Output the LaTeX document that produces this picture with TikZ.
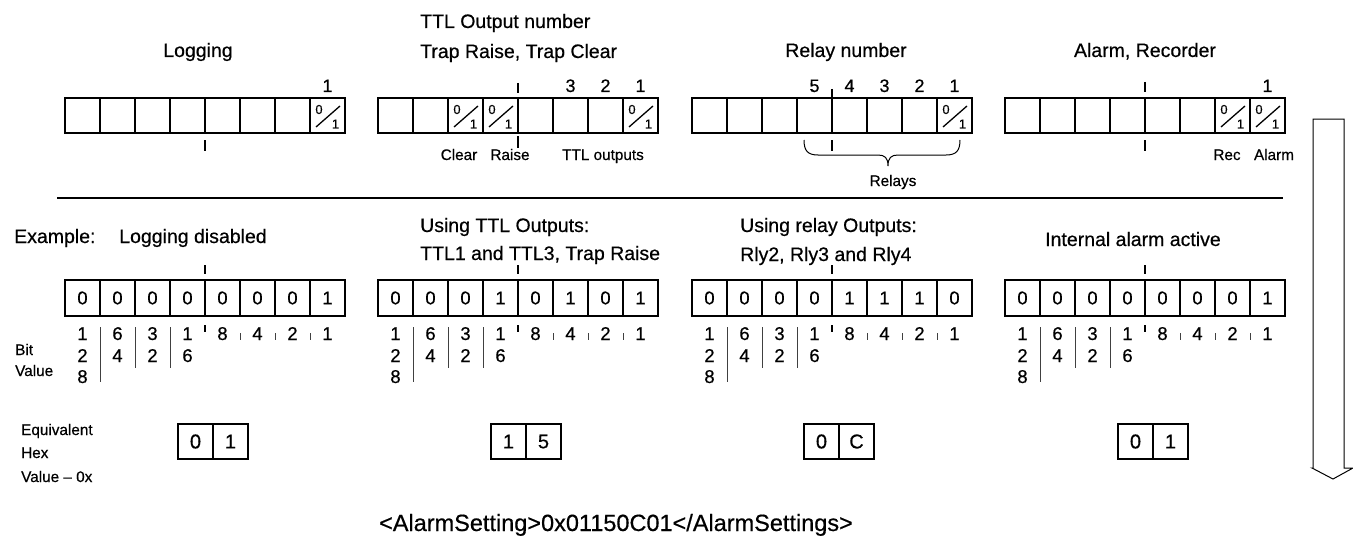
\documentclass[tikz,border=0pt]{standalone}
\usepackage{fontspec}
\setmainfont[FakeBold=0.5]{Liberation Sans}
\newcommand\fhead{\fontsize{19.5}{23}\selectfont}
\newcommand\fdig{\fontsize{18.5}{22}\selectfont}
\newcommand\fhex{\fontsize{20}{24}\selectfont}
\newcommand\fsmall{\fontsize{15.3}{18}\selectfont}
\newcommand\fnum{\fontsize{18}{21}\selectfont}
\newcommand\ffrac{\fontsize{13}{15}\selectfont}
\newcommand\fbig{\fontsize{23.5}{28}\selectfont}
\tikzset{
  cell/.style={draw, line width=1.5pt, minimum width=35pt, minimum height=35pt, inner sep=0pt, font=\fdig},
  bcell/.style={cell, minimum height=36pt},
  hcell/.style={cell, font=\fhex},
  tickline/.style={line width=1.6pt},
  sepline/.style={line width=0.8pt, black!75},
  lbl/.style={inner sep=0pt, anchor=base},
  lblw/.style={inner sep=0pt, anchor=base west},
  fracline/.style={line width=1.3pt},
}
% empty top register: #1 left x, #2 name
\newcommand\topreg[2]{%
  \foreach \k in {0,...,7} {\node[cell] (#2\k) at ({#1+17.5+35*\k},115.5) {};}}
% fraction mark in a top cell: #1 left x of cell
\newcommand\fracmark[1]{%
  \draw[fracline] ({#1+6},127) -- ({#1+30},106);
  \node[font=\ffrac, inner sep=0pt] at ({#1+9},109.5) {0};
  \node[font=\ffrac, inner sep=0pt] at ({#1+25.5},124) {1};}
% bottom register: #1 left x, #2 name, #3 digits
\newcommand\botreg[3]{%
  \foreach \d [count=\k from 0] in {#3} {\node[bcell] (#2\k) at ({#1+17.5+35*\k},298) {\d};}
  \draw[tickline] ({#1+140},265) -- ({#1+140},274);
  % bit values
  \foreach \col/\a/\b/\c in {0/1/2/8, 1/6/4/, 2/3/2/, 3/1/6/, 4/8//, 5/4//, 6/2//, 7/1//} {
    \node[lbl, font=\fdig] at ({#1+17.5+35*\col},340) {\a};
    \node[lbl, font=\fdig] at ({#1+17.5+35*\col},362) {\b};
    \node[lbl, font=\fdig] at ({#1+17.5+35*\col},383) {\c};
  }
  \draw[sepline] ({#1+35},327) -- ({#1+35},382);
  \draw[sepline] ({#1+70},327) -- ({#1+70},368);
  \draw[sepline] ({#1+105},327) -- ({#1+105},368);
  \draw[tickline] ({#1+140},325) -- ({#1+140},332);
  \foreach \x in {175,210,245} {\draw[sepline] ({#1+\x},333) -- ({#1+\x},340);}
}
% hex box: #1 left x, #2 name, #3 #4 digits
\newcommand\hexbox[4]{%
  \node[hcell] (#2a) at ({#1+17.5},441.5) {#3};
  \node[hcell] (#2b) at ({#1+52.5},441.5) {#4};}
\begin{document}
\begin{tikzpicture}[x=1pt, y=-1pt]
\useasboundingbox (0,0) rectangle (1353,543);

% ---------- top section ----------
\node[lbl, font=\fhead] (hlog) at (198,57) {Logging};
\node[lblw, font=\fhead] (httl1) at (420,28) {TTL Output number};
\node[lblw, font=\fhead] (httl2) at (420,58) {Trap Raise, Trap Clear};
\node[lbl, font=\fhead] (hrly) at (846,57) {Relay number};
\node[lbl, font=\fhead] (halm) at (1145,57) {Alarm, Recorder};

\topreg{65}{L}
\topreg{378}{T}
\topreg{692}{R}
\topreg{1005}{A}

\fracmark{310}
\fracmark{448}
\fracmark{483}
\fracmark{623}
\fracmark{937}
\fracmark{1215}
\fracmark{1250}

% numbers above cells
\node[lbl, font=\fnum] (nL1) at (327.5,92) {1};
\node[lbl, font=\fnum] (nT3) at (570.5,92) {3};
\node[lbl, font=\fnum] (nT2) at (605.5,92) {2};
\node[lbl, font=\fnum] (nT1) at (640.5,92) {1};
\node[lbl, font=\fnum] (nR5) at (814.5,92) {5};
\node[lbl, font=\fnum] (nR4) at (849.5,92) {4};
\node[lbl, font=\fnum] (nR3) at (884.5,92) {3};
\node[lbl, font=\fnum] (nR2) at (919.5,92) {2};
\node[lbl, font=\fnum] (nR1) at (954.5,92) {1};
\node[lbl, font=\fnum] (nA1) at (1267.5,92) {1};

% ticks
\draw[tickline] (205,140) -- (205,151);
\draw[tickline] (518,83) -- (518,93);
\draw[tickline] (518,136) -- (518,148);
\draw[tickline] (832,89) -- (832,97);
\draw[tickline] (832,140) -- (832,151);
\draw[tickline] (1145,82) -- (1145,92);
\draw[tickline] (1145,140) -- (1145,151);

% small labels
\node[lbl, font=\fsmall] (lclr) at (459,160) {Clear};
\node[lbl, font=\fsmall] (lrse) at (510,160) {Raise};
\node[lbl, font=\fsmall] (lttl) at (603,160) {TTL outputs};
\node[lbl, font=\fsmall] (lrec) at (1227,160) {Rec};
\node[lbl, font=\fsmall] (lalm) at (1274,160) {Alarm};
\node[lbl, font=\fsmall] (lrly) at (893,186) {Relays};

% brace
\draw[line width=1pt] (804,140) .. controls (804,151) and (808,155) .. (818,155) -- (878,155)
  .. controls (885,155) and (888,158) .. (888,166)
  .. controls (888,158) and (891,155) .. (898,155) -- (946,155)
  .. controls (956,155) and (960,151) .. (960,140);

% separator line
\coordinate (sepA) at (57,198);
\coordinate (sepB) at (1283,198);
\draw[line width=1.6pt] (sepA) -- (sepB);

% ---------- bottom section ----------
\node[lblw, font=\fhead] (exl) at (14,243) {Example:};
\node[lbl, font=\fhead] (ex1) at (193,243) {Logging disabled};
\node[lblw, font=\fhead] (ex2a) at (420,232) {Using TTL Outputs:};
\node[lblw, font=\fhead] (ex2b) at (420,260) {TTL1 and TTL3, Trap Raise};
\node[lblw, font=\fhead] (ex3a) at (740,232) {Using relay Outputs:};
\node[lblw, font=\fhead] (ex3b) at (740,261) {Rly2, Rly3 and Rly4};
\node[lbl, font=\fhead] (ex4) at (1133,246) {Internal alarm active};

\botreg{65}{B}{0,0,0,0,0,0,0,1}
\botreg{378}{C}{0,0,0,1,0,1,0,1}
\botreg{692}{D}{0,0,0,0,1,1,1,0}
\botreg{1005}{E}{0,0,0,0,0,0,0,1}

\node[lblw, font=\fsmall] (bit) at (15,355) {Bit};
\node[lblw, font=\fsmall] (val) at (15,376) {Value};

\node[lblw, font=\fsmall] (eq1) at (21,435) {Equivalent};
\node[lblw, font=\fsmall] (eq2) at (21,458) {Hex};
\node[lblw, font=\fsmall] (eq3) at (21,482) {Value – 0x};

\hexbox{178}{H1}{0}{1}
\hexbox{491}{H2}{1}{5}
\hexbox{804}{H3}{0}{C}
\hexbox{1118}{H4}{0}{1}

\node[lbl, font=\fbig] (xml) at (616,531) {<AlarmSetting>0x01150C01</AlarmSettings>};

% hollow arrow
\draw[line width=1pt] (1313,119) -- (1344,119) -- (1344,468) -- (1353,468) -- (1333,479)
  -- (1312,468) -- (1313,468) -- cycle;
\end{tikzpicture}
\end{document}
